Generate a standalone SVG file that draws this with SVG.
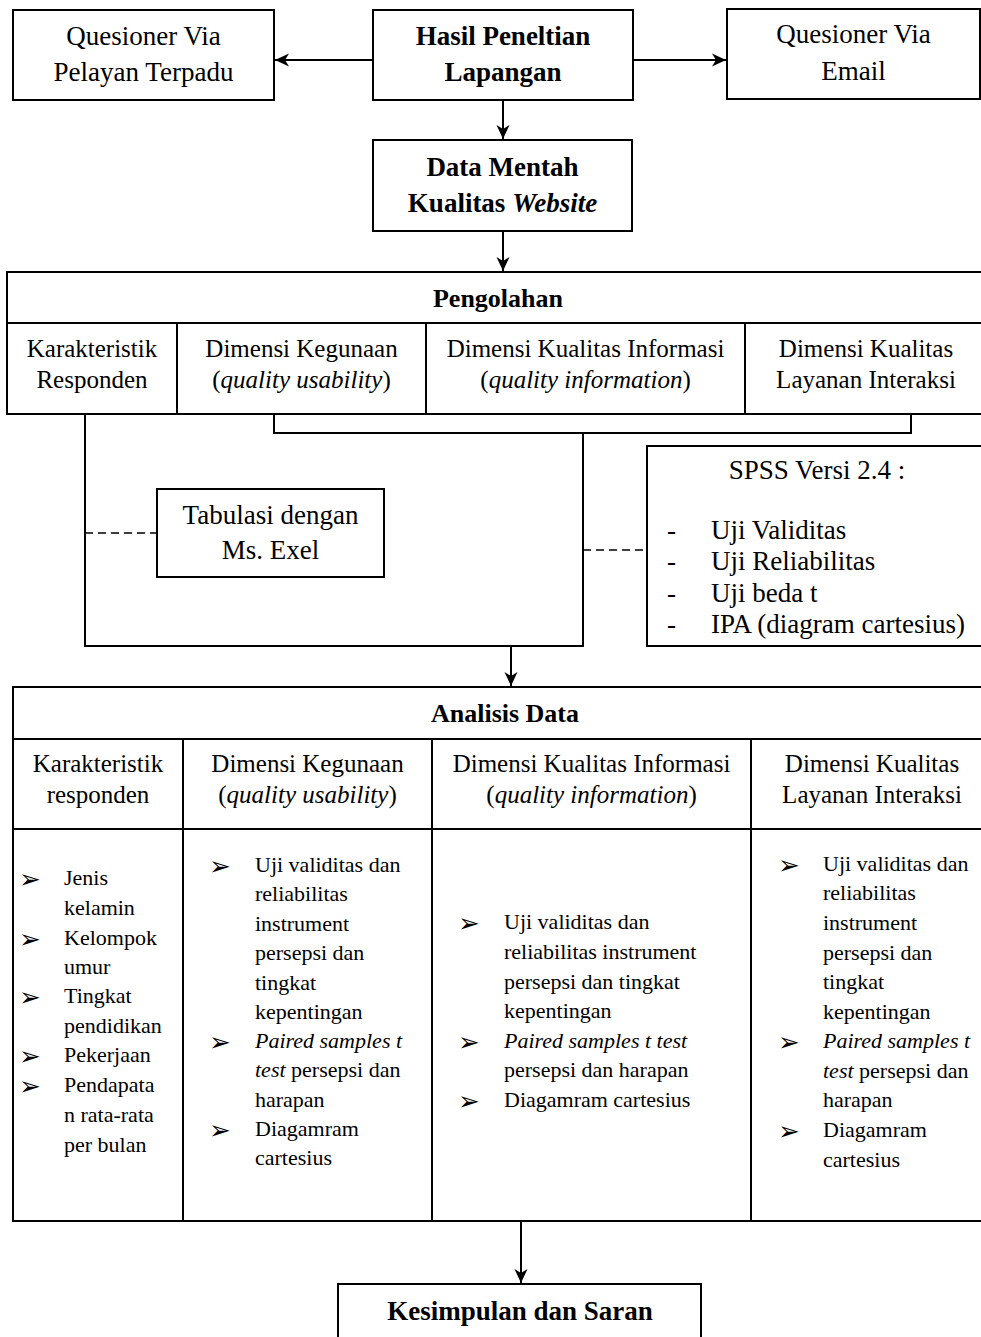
<svg xmlns="http://www.w3.org/2000/svg" width="981" height="1337" viewBox="0 0 981 1337">
<style>
text{font-family:"Liberation Serif","Times New Roman",serif;fill:#000}
.box{fill:#fff;stroke:#000;stroke-width:2}
.ln{fill:none;stroke:#000;stroke-width:2}
.dash{fill:none;stroke:#000;stroke-width:1.5;stroke-dasharray:8,5}
.t27{font-size:27px}
.t26{font-size:26px}
.t25{font-size:25px}
.t22{font-size:22px}
.b{font-weight:bold}
.i{font-style:italic}
.c{text-anchor:middle}
.bl{font-family:"DejaVu Sans",sans-serif;font-size:26px}
</style>
<defs>
<marker id="ah" markerUnits="userSpaceOnUse" markerWidth="16" markerHeight="16" refX="14" refY="8" orient="auto">
<path d="M0,1.5 L14,8 L0,14.5 L4,8 z" fill="#000"/>
</marker>
</defs>
<rect width="981" height="1337" fill="#fff"/>

<g id="connectors">
<path class="ln" d="M373,60 H275" marker-end="url(#ah)"/>
<path class="ln" d="M633,60 H726" marker-end="url(#ah)"/>
<path class="ln" d="M503,100 V139" marker-end="url(#ah)"/>
<path class="ln" d="M503,231 V271" marker-end="url(#ah)"/>
<path class="ln" d="M274,414 V433 H911 V414"/>
<path class="ln" d="M583,433 V646 H85 V414"/>
<path class="dash" d="M85,533 H157"/>
<path class="dash" d="M583,550 H647"/>
<path class="ln" d="M511,646 V686" marker-end="url(#ah)"/>
<path class="ln" d="M521,1221 V1283" marker-end="url(#ah)"/>
</g>

<g id="node-quesioner-pelayan">
<rect class="box" x="13" y="10" width="261" height="90"/>
<text class="t27 c" x="143.5" y="45">Quesioner Via</text>
<text class="t27 c" x="143.5" y="81">Pelayan Terpadu</text>
</g>

<g id="node-hasil">
<rect class="box" x="373" y="10" width="260" height="90"/>
<text class="t27 c b" x="503" y="45">Hasil Peneltian</text>
<text class="t27 c b" x="503" y="81">Lapangan</text>
</g>

<g id="node-quesioner-email">
<rect class="box" x="727" y="9" width="253" height="90"/>
<text class="t27 c" x="853.5" y="43">Quesioner Via</text>
<text class="t27 c" x="853.5" y="80">Email</text>
</g>

<g id="node-data-mentah">
<rect class="box" x="373" y="140" width="259" height="91"/>
<text class="t27 c b" x="502.5" y="176">Data Mentah</text>
<text class="t27 c b" x="502.5" y="212">Kualitas <tspan class="i">Website</tspan></text>
</g>

<g id="node-pengolahan">
<rect class="box" x="7" y="272" width="985" height="142"/>
<path class="ln" d="M7,323 H981 M177,323 V414 M426,323 V414 M745,323 V414"/>
<text class="t26 c b" x="498" y="307">Pengolahan</text>
<text class="t25 c" x="92" y="357">Karakteristik</text>
<text class="t25 c" x="92" y="388">Responden</text>
<text class="t25 c" x="301.5" y="357">Dimensi Kegunaan</text>
<text class="t25 c" x="301.5" y="388">(<tspan class="i">quality usability</tspan>)</text>
<text class="t25 c" x="585.5" y="357">Dimensi Kualitas Informasi</text>
<text class="t25 c" x="585.5" y="388">(<tspan class="i">quality information</tspan>)</text>
<text class="t25 c" x="866" y="357">Dimensi Kualitas</text>
<text class="t25 c" x="866" y="388">Layanan Interaksi</text>
</g>

<g id="node-tabulasi">
<rect class="box" x="157" y="489" width="227" height="88"/>
<text class="t27 c" x="270.5" y="524">Tabulasi dengan</text>
<text class="t27 c" x="270.5" y="559">Ms. Exel</text>
</g>

<g id="node-spss">
<rect class="box" x="647" y="446" width="345" height="200"/>
<text class="t27 c" x="817" y="479">SPSS Versi 2.4 :</text>
<text class="t27" x="667" y="539">-</text>
<text class="t27" x="711" y="539">Uji Validitas</text>
<text class="t27" x="667" y="570">-</text>
<text class="t27" x="711" y="570">Uji Reliabilitas</text>
<text class="t27" x="667" y="602">-</text>
<text class="t27" x="711" y="602">Uji beda t</text>
<text class="t27" x="667" y="633">-</text>
<text class="t27" x="711" y="633">IPA (diagram cartesius)</text>
</g>

<g id="node-analisis">
<rect class="box" x="13" y="687" width="980" height="534"/>
<path class="ln" d="M13,739 H981 M13,829 H981 M183,739 V1221 M432,739 V1221 M751,739 V1221"/>
<text class="t26 c b" x="505" y="722">Analisis Data</text>
<text class="t25 c" x="98" y="772">Karakteristik</text>
<text class="t25 c" x="98" y="803">responden</text>
<text class="t25 c" x="307.5" y="772">Dimensi Kegunaan</text>
<text class="t25 c" x="307.5" y="803">(<tspan class="i">quality usability</tspan>)</text>
<text class="t25 c" x="591.5" y="772">Dimensi Kualitas Informasi</text>
<text class="t25 c" x="591.5" y="803">(<tspan class="i">quality information</tspan>)</text>
<text class="t25 c" x="872" y="772">Dimensi Kualitas</text>
<text class="t25 c" x="872" y="803">Layanan Interaksi</text>

<text class="bl" x="19" y="888">➢</text>
<text class="t22" x="64" y="885">Jenis</text>
<text class="t22" x="64" y="915">kelamin</text>
<text class="bl" x="19" y="948">➢</text>
<text class="t22" x="64" y="945">Kelompok</text>
<text class="t22" x="64" y="974">umur</text>
<text class="bl" x="19" y="1006">➢</text>
<text class="t22" x="64" y="1003">Tingkat</text>
<text class="t22" x="64" y="1033">pendidikan</text>
<text class="bl" x="19" y="1065">➢</text>
<text class="t22" x="64" y="1062">Pekerjaan</text>
<text class="bl" x="19" y="1095">➢</text>
<text class="t22" x="64" y="1092">Pendapata</text>
<text class="t22" x="64" y="1122">n rata-rata</text>
<text class="t22" x="64" y="1152">per bulan</text>

<text class="bl" x="209" y="875">➢</text>
<text class="t22" x="255" y="872">Uji validitas dan</text>
<text class="t22" x="255" y="901">reliabilitas</text>
<text class="t22" x="255" y="931">instrument</text>
<text class="t22" x="255" y="960">persepsi dan</text>
<text class="t22" x="255" y="990">tingkat</text>
<text class="t22" x="255" y="1019">kepentingan</text>
<text class="bl" x="209" y="1051">➢</text>
<text class="t22 i" x="255" y="1048">Paired samples t</text>
<text class="t22" x="255" y="1077"><tspan class="i">test</tspan> persepsi dan</text>
<text class="t22" x="255" y="1107">harapan</text>
<text class="bl" x="209" y="1139">➢</text>
<text class="t22" x="255" y="1136">Diagamram</text>
<text class="t22" x="255" y="1165">cartesius</text>

<text class="bl" x="458" y="932">➢</text>
<text class="t22" x="504" y="929">Uji validitas dan</text>
<text class="t22" x="504" y="959">reliabilitas instrument</text>
<text class="t22" x="504" y="989">persepsi dan tingkat</text>
<text class="t22" x="504" y="1018">kepentingan</text>
<text class="bl" x="458" y="1051">➢</text>
<text class="t22 i" x="504" y="1048">Paired samples t test</text>
<text class="t22" x="504" y="1077">persepsi dan harapan</text>
<text class="bl" x="458" y="1110">➢</text>
<text class="t22" x="504" y="1107">Diagamram cartesius</text>

<text class="bl" x="778" y="874">➢</text>
<text class="t22" x="823" y="871">Uji validitas dan</text>
<text class="t22" x="823" y="900">reliabilitas</text>
<text class="t22" x="823" y="930">instrument</text>
<text class="t22" x="823" y="960">persepsi dan</text>
<text class="t22" x="823" y="989">tingkat</text>
<text class="t22" x="823" y="1019">kepentingan</text>
<text class="bl" x="778" y="1051">➢</text>
<text class="t22 i" x="823" y="1048">Paired samples t</text>
<text class="t22" x="823" y="1078"><tspan class="i">test</tspan> persepsi dan</text>
<text class="t22" x="823" y="1107">harapan</text>
<text class="bl" x="778" y="1140">➢</text>
<text class="t22" x="823" y="1137">Diagamram</text>
<text class="t22" x="823" y="1167">cartesius</text>
</g>

<g id="node-kesimpulan">
<rect class="box" x="338" y="1284" width="363" height="70"/>
<text class="t27 c b" x="520" y="1320">Kesimpulan dan Saran</text>
</g>
</svg>
